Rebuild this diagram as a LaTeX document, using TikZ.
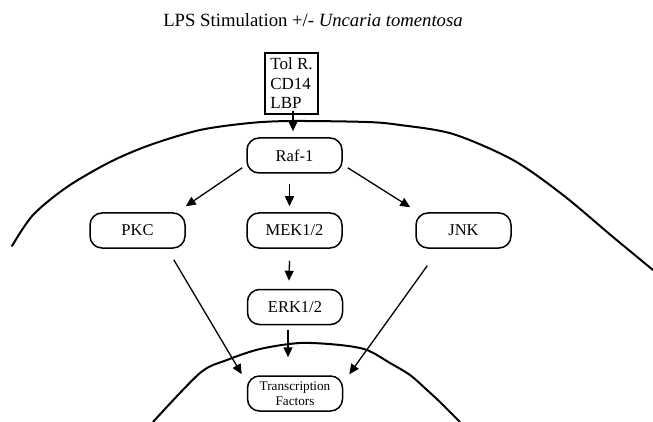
\documentclass[tikz,border=0pt]{standalone}
\usepackage{fontspec}
\setmainfont{Liberation Serif}
\usetikzlibrary{arrows.meta}

\tikzset{
  pathway/.style={draw, line width=1.5pt, rounded corners=12pt, minimum width=95pt,
    minimum height=35pt, inner sep=0pt, font=\fontsize{16.5}{18}\selectfont},
  arr/.style={line width=1.3pt, -{Triangle[length=10pt,width=9pt]}},
  wall/.style={line width=2pt, line cap=round, line join=round}
}

\begin{document}
\begin{tikzpicture}[x=1pt,y=-1pt]
  \useasboundingbox (0,0) rectangle (653,422);
  % title
  \node[anchor=base, font=\fontsize{18.7}{22}\selectfont] (title) at (313,27)
    {LPS Stimulation +/- \textit{Uncaria tomentosa}};
  % cell membrane and nucleus
  \draw[wall] plot[smooth] coordinates {(12,246) (33,215) (67,187) (110,162) (150,145)
    (200,130) (250,123) (292,121) (367,122) (400,125) (453,134) (513,160) (563,195)
    (613,237) (653,270)};
  \draw[wall] plot[smooth] coordinates {(153,422) (200,373) (227,360) (260,349) (300,343)
    (340,345) (367,350) (390,363) (410,375) (427,390) (440,402) (460,422)};
  % receptor complex
  \node[draw, line width=1.5pt, align=left, minimum width=53pt, inner xsep=0pt, inner ysep=0pt,
    minimum height=61pt, font=\fontsize{17}{19.5}\selectfont] (rec) at (291.5,83.5)
    {Tol R.\\CD14\\LBP};
  % kinases
  \node[pathway] (raf) at (294.5,155.5) {Raf-1};
  \node[pathway] (pkc) at (137.5,230.5) {PKC};
  \node[pathway] (mek) at (294.5,230.5) {MEK1/2};
  \node[pathway] (jnk) at (463.5,230.5) {JNK};
  \node[pathway] (erk) at (295,307) {ERK1/2};
  \node[pathway, align=center, font=\fontsize{13.2}{15}\selectfont] (tf) at (295,393.5)
    {Transcription\\Factors};
  % signalling arrows
  \draw[arr] ([xshift=1.5pt,yshift=4pt]rec.south) -- ([xshift=-1.5pt,yshift=6pt]raf.north);
  \draw[arr] ([shift={(-4pt,6pt)}]raf.south west) -- ([yshift=6pt]pkc.north east);
  \draw[arr] ([xshift=-5pt,yshift=-10pt]raf.south) -- ([xshift=-5pt,yshift=6pt]mek.north);
  \draw[arr] ([shift={(5pt,6pt)}]raf.south east) -- ([shift={(-5pt,5pt)}]jnk.north west);
  \draw[arr] ([xshift=-5pt,yshift=-12pt]mek.south) -- ([xshift=-6pt,yshift=8pt]erk.north);
  \draw[arr] ([xshift=-7pt,yshift=-5pt]erk.south) -- ([xshift=-7pt,yshift=18pt]tf.north);
  \draw[arr] ([shift={(-12pt,-11pt)}]pkc.south east) -- ([shift={(-5pt,1pt)}]tf.north west);
  \draw[arr] ([shift={(12pt,-17pt)}]jnk.south west) -- ([shift={(6pt,1pt)}]tf.north east);
\end{tikzpicture}
\end{document}
